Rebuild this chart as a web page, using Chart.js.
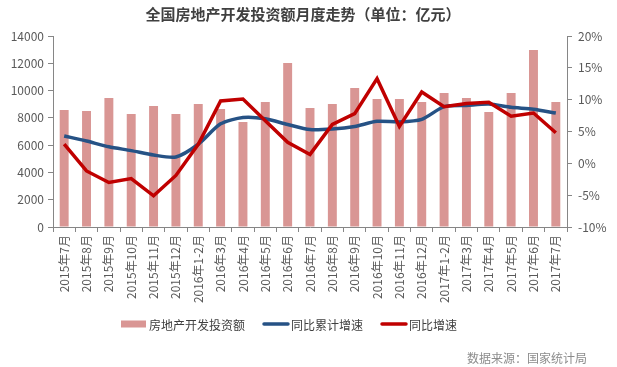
<!DOCTYPE html>
<html>
<head>
<meta charset="utf-8">
<script src="https://cdn.jsdelivr.net/npm/chart.js@4/dist/chart.umd.min.js"></script>
<style>
  html, body { margin: 0; padding: 0; background: #fff; }
  #wrap { width: 617px; height: 367px; }
</style>
</head>
<body>
<div id="wrap"><canvas id="chart" width="617" height="367"></canvas></div>
<script>
const FONT = '"Noto Sans CJK SC", "Noto Sans", sans-serif';

// data
const months = [
  "2015年7月", "2015年8月", "2015年9月", "2015年10月", "2015年11月", "2015年12月",
  "2016年1-2月", "2016年3月", "2016年4月", "2016年5月", "2016年6月", "2016年7月",
  "2016年8月", "2016年9月", "2016年10月", "2016年11月", "2016年12月",
  "2017年1-2月", "2017年3月", "2017年4月", "2017年5月", "2017年6月", "2017年7月"
];
const investment = [
  8570, 8500, 9450, 8280, 8870, 8280,
  9010, 8650, 7700, 9160, 12020, 8720,
  9010, 10190, 9380, 9380, 9160,
  9820, 9450, 8430, 9820, 12970, 9160
];
const cumulativeGrowth = [
  4.3, 3.5, 2.6, 2.0, 1.3, 1.0,
  3.0, 6.2, 7.2, 7.0, 6.1, 5.3,
  5.4, 5.8, 6.6, 6.5, 6.9,
  8.9, 9.1, 9.3, 8.8, 8.5, 7.9
];
const monthlyGrowth = [
  3.0, -1.2, -3.0, -2.4, -5.1, -1.9,
  3.0, 9.8, 10.1, 6.7, 3.3, 1.4,
  6.1, 7.8, 13.3, 5.8, 11.2,
  8.9, 9.4, 9.6, 7.4, 7.9, 4.8
];
const leftTicks = { min: 0, max: 14000, step: 2000 };
const rightTicks = { min: -10, max: 20, step: 5 };

const chartTitle = "全国房地产开发投资额月度走势（单位：亿元）";
const sourceNote = "数据来源：国家统计局";

// title, source note and legend drawn on the canvas
const extras = {
  id: "extras",
  afterDraw(chart) {
    const ctx = chart.ctx;
    ctx.save();
    ctx.textBaseline = "middle";

    ctx.fillStyle = "#404040";
    ctx.font = "bold 15px " + FONT;
    ctx.textAlign = "center";
    ctx.fillText(chartTitle, 303, 14);

    ctx.fillStyle = "#8c8c8c";
    ctx.font = "12px " + FONT;
    ctx.textAlign = "right";
    ctx.fillText(sourceNote, 587, 358);

    // legend
    ctx.font = "12px " + FONT;
    ctx.textAlign = "left";
    let x = 121;
    const y = 324;
    chart.data.datasets.forEach(ds => {
      if (ds.type === "bar") {
        ctx.fillStyle = ds.backgroundColor;
        ctx.fillRect(x, y - 3.5, 25, 7);
      } else {
        ctx.strokeStyle = ds.borderColor;
        ctx.lineWidth = 3.5;
        ctx.lineCap = "round";
        ctx.beginPath();
        ctx.moveTo(x + 1, y);
        ctx.lineTo(x + 25, y);
        ctx.stroke();
      }
      x += 28;
      ctx.fillStyle = "#404040";
      ctx.fillText(ds.label, x, y + 1);
      x += ctx.measureText(ds.label).width + 18;
    });
    ctx.restore();
  }
};

const axisColor = "#868686";
const tickColor = "#595959";

new Chart(document.getElementById("chart"), {
  data: {
    labels: months,
    datasets: [
      {
        type: "bar",
        label: "房地产开发投资额",
        data: investment,
        yAxisID: "y",
        backgroundColor: "#d99694",
        barPercentage: 0.4,
        categoryPercentage: 1,
        order: 3
      },
      {
        type: "line",
        label: "同比累计增速",
        data: cumulativeGrowth,
        yAxisID: "y1",
        borderColor: "#265285",
        borderWidth: 3.5,
        pointRadius: 0,
        tension: 0.25,
        order: 2
      },
      {
        type: "line",
        label: "同比增速",
        data: monthlyGrowth,
        yAxisID: "y1",
        borderColor: "#c00000",
        borderWidth: 3.5,
        pointRadius: 0,
        tension: 0,
        order: 1
      }
    ]
  },
  options: {
    responsive: false,
    animation: false,
    layout: { padding: { top: 36, left: 0, right: 0, bottom: 60 } },
    plugins: {
      legend: { display: false },
      title: { display: false },
      tooltip: { enabled: false }
    },
    scales: {
      x: {
        offset: true,
        grid: { offset: true, drawOnChartArea: false, drawTicks: true, tickLength: 5, color: axisColor },
        border: { color: axisColor },
        ticks: {
          color: tickColor,
          font: { family: FONT, size: 12 },
          minRotation: 90,
          maxRotation: 90,
          autoSkip: false,
          padding: 3
        },
        afterFit(scale) { scale.height = 80; }
      },
      y: {
        position: "left",
        min: leftTicks.min,
        max: leftTicks.max,
        grid: { drawOnChartArea: false, tickLength: 5, color: axisColor },
        border: { color: axisColor },
        ticks: {
          stepSize: leftTicks.step,
          color: tickColor,
          font: { family: FONT, size: 12 },
          padding: 4,
          callback: v => String(v)
        },
        afterFit(scale) { scale.width = 53; }
      },
      y1: {
        position: "right",
        min: rightTicks.min,
        max: rightTicks.max,
        grid: { drawOnChartArea: false, tickLength: 5, color: axisColor },
        border: { color: axisColor },
        ticks: {
          stepSize: rightTicks.step,
          color: tickColor,
          font: { family: FONT, size: 12 },
          padding: 6,
          callback: v => v + "%"
        },
        afterFit(scale) { scale.width = 50; }
      }
    }
  },
  plugins: [extras]
});
</script>
</body>
</html>
